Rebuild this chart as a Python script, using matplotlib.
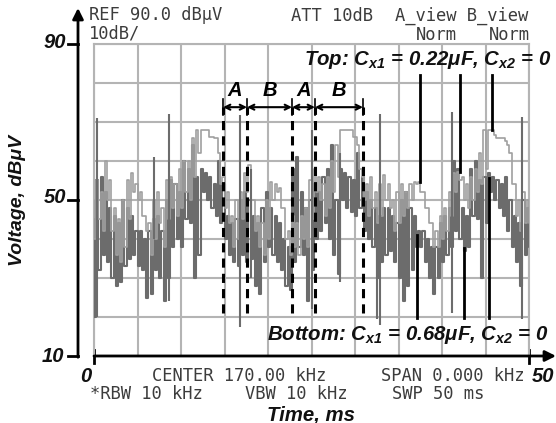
import numpy as np
import matplotlib
matplotlib.use('Agg')
import matplotlib.pyplot as plt

plt.rcParams['mathtext.fontset'] = 'custom'
plt.rcParams['mathtext.rm'] = 'Liberation Sans:bold:italic'
plt.rcParams['mathtext.it'] = 'Liberation Sans:bold:italic'
plt.rcParams['mathtext.bf'] = 'Liberation Sans:bold:italic'

# time axis, ms (0.5 ms columns)
t = np.linspace(0, 50, 101)

# top trace, Cx1 = 0.22uF (light gray): min / max per column, dBuV
top_lo = [40, 45, 42, 50, 42, 36, 34, 38, 45, 52,
          50, 46, 42, 36, 40, 44, 38, 45, 48, 46,
          48, 52, 50, 56, 62, 68, 68, 66.2, 65.8, 54,
          48, 44, 38, 40, 45, 52, 50, 42, 38, 36,
          40, 50, 52, 48, 40, 36, 38, 36, 40, 38,
          45, 52, 50, 46, 48, 52, 56, 68, 68, 68,
          66.2, 58, 50, 46, 48, 44, 46, 50, 48, 42,
          44, 46, 48, 50, 54, 52, 48, 44, 38, 38,
          40, 42, 46, 52, 55, 50, 48, 50, 52, 54,
          58, 68, 66.7, 66, 65.8, 64, 54, 46, 42, 44,
          44]
top_hi = [50, 55, 52, 60, 55, 48, 45, 50, 55, 57,
          54, 52, 46, 44, 50, 52, 48, 55, 56, 54,
          58, 60, 60, 66, 68, 68, 68, 66.2, 65.8, 62,
          56, 52, 46, 50, 52, 57, 59, 50, 46, 44,
          50, 54.7, 54, 53, 48, 42, 46, 44, 46, 48,
          55, 58, 56, 54, 56, 60, 64, 68, 68, 68,
          66.2, 64, 56, 54, 56, 52, 54, 56.4, 54, 50,
          52, 54, 52, 54, 54.7, 54.6, 52, 48, 44, 42,
          46, 48, 52, 57, 57.2, 56, 54, 56, 58, 62,
          68, 68, 68, 66, 65.8, 65, 62, 54, 50, 52,
          50]

# bottom trace, Cx1 = 0.68uF (dark gray): min / max per column, dBuV
bot_lo = [20, 32, 36, 34, 30, 28, 29, 33, 35, 36,
          33, 32, 25, 26, 32, 30, 24, 30, 38, 40,
          38, 45, 44, 30, 36, 52, 50, 48, 46, 44,
          40, 36, 34, 33, 36, 34, 35, 28, 26, 34,
          38, 36, 34, 32, 28, 27, 34, 38, 36, 24,
          32, 40, 42, 44, 40, 36, 31, 50, 48, 47,
          46, 48, 42, 40, 38, 30, 34, 36, 37, 34,
          30, 24, 28, 32, 38, 38, 34, 30, 26, 30,
          34, 36, 38, 42, 40, 37, 38, 46, 45, 30,
          44, 52, 50, 48, 46, 42, 38, 34, 28, 36,
          38]
bot_hi = [45, 55, 56, 52, 48, 46, 44, 50, 48, 46,
          42, 42, 40, 42, 45, 46, 42, 50, 55, 54,
          52, 60, 58, 64, 56, 58, 57, 56, 54, 60,
          54, 46, 44, 45, 50, 52, 50, 46, 44, 48,
          52, 48, 46, 44, 40, 38, 58, 61, 52, 48,
          50, 54, 52, 56, 58, 64, 50, 58, 57, 56,
          55, 62, 56, 52, 50, 48, 46, 48, 48, 46,
          44, 50, 52, 48, 46, 42, 42, 40, 38, 38,
          44, 46, 48, 60, 58, 48, 46, 58, 60, 55,
          56, 57, 56, 55, 54, 56, 50, 46, 44, 50,
          48]

# narrow spikes: time, low, high
spike_t = [0.3, 6.9, 8.6, 16.8, 18.0, 25.0, 28.3, 32.5, 32.9, 41.1, 49.2]
spike_lo = [20, 40, 24, 17.5, 30, 22, 29, 19.6, 18, 21, 19.6]
spike_hi = [71, 61, 72, 71.8, 58, 68, 62, 40, 72, 72.6, 71.4]

# A / B interval markers
marks_t = [14.83, 17.59, 22.76, 25.4, 30.92]
marks_lbl = ['A', 'B', 'A', 'B']

# leader lines: (time, end value)
top_lead = [(37.47, 54.6), (42.07, 57.2), (45.75, 68.0)]
bot_lead = [(37.13, 41.0), (42.53, 37.7), (45.4, 55.6)]


def zigzag(lo, hi):
    # every column drawn as a vertical stroke hi -> lo
    tt = np.repeat(t, 2) + np.tile([-0.125, 0.125], len(t))
    yy = np.column_stack([hi, lo]).ravel()
    return tt, yy


W, H = 556, 423
fig = plt.figure(figsize=(W / 100, H / 100), dpi=100)
ax = fig.add_axes([94 / W, (H - 356) / H, (529 - 94) / W, (356 - 44) / H])
ax.set_xlim(0, 50)
ax.set_ylim(10, 90)
ax.set_xticks(np.arange(0, 51, 5))
ax.set_yticks(np.arange(10, 91, 10))
ax.tick_params(length=0, labelbottom=False, labelleft=False)
ax.grid(True, color='#b4b4b4', lw=1.5)
for s in ['top', 'right', 'left']:
    ax.spines[s].set_color('#b4b4b4')
    ax.spines[s].set_linewidth(1.5)
ax.spines['bottom'].set_visible(False)

ax.plot(*zigzag(bot_lo, bot_hi), drawstyle='steps-mid', color='#6c6c6c', lw=1.5, zorder=3)
ax.plot(*zigzag(top_lo, top_hi), drawstyle='steps-mid', color='#a0a0a0', lw=1.2, zorder=3)
ax.vlines(spike_t, spike_lo, spike_hi, color='#6c6c6c', lw=1.5, zorder=3)

# dashed markers and arrows
for x in marks_t:
    ax.plot([x, x], [21, 73.8], color='k', lw=2.2, ls=(0, (3, 2)), zorder=5)
    ax.plot([x, x], [71.8, 75.8], color='k', lw=1.2, zorder=5)
for i in range(len(marks_lbl)):
    ax.annotate('', xy=(marks_t[i + 1], 73.8), xytext=(marks_t[i], 73.8),
                arrowprops=dict(arrowstyle='<->', color='k', lw=1.5,
                                shrinkA=0, shrinkB=0, mutation_scale=9), zorder=5)
    ax.text((marks_t[i] + marks_t[i + 1]) / 2, 78.2, marks_lbl[i], ha='center', va='center',
            fontsize=14.5, fontweight='bold', style='italic', family='Liberation Sans')

for x, y in top_lead:
    ax.plot([x, x], [y, 82], color='k', lw=2, zorder=5)
for x, y in bot_lead:
    ax.plot([x, x], [19.7, y], color='k', lw=2, zorder=5)

# axes with arrows
yx = (78 - 94) / 435
ax.annotate('', xy=(yx, (356 - 8) / 312), xytext=(yx, -0.004), xycoords='axes fraction',
            arrowprops=dict(arrowstyle='-|>', color='k', lw=2, mutation_scale=16,
                            shrinkA=0, shrinkB=0))
ax.annotate('', xy=((556 - 94) / 435, 0), xytext=(0, 0), xycoords='axes fraction',
            arrowprops=dict(arrowstyle='-|>', color='k', lw=2, mutation_scale=16,
                            shrinkA=0, shrinkB=0))
ytr = ax.get_yaxis_transform()
for v in [90, 50, 10]:
    ax.plot([yx - 0.022, yx], [v, v], color='k', lw=2, transform=ytr, clip_on=False)
xtr = ax.get_xaxis_transform()
for v in [0, 50]:
    ax.plot([v, v], [-0.022, 0.019], color='k', lw=2, transform=xtr, clip_on=False)


def px(x, y):
    return x / W, 1 - y / H


bi = dict(fontweight='bold', style='italic', family='Liberation Sans', color='#111111')
mono = dict(family='DejaVu Sans Mono', fontsize=12.3, color='#3c3c3c')

fig.text(*px(66, 42), '90', ha='right', va='center', fontsize=14.5, **bi)
fig.text(*px(66, 197), '50', ha='right', va='center', fontsize=14.5, **bi)
fig.text(*px(64, 356), '10', ha='right', va='center', fontsize=14.5, **bi)
fig.text(*px(86, 377), '0', ha='center', va='center', fontsize=14.5, **bi)
fig.text(*px(543, 377), '50', ha='center', va='center', fontsize=14.5, **bi)
fig.text(*px(18, 200), 'Voltage, dBμV', ha='center', va='center', rotation=90, fontsize=14, **bi)
fig.text(*px(311, 415), 'Time, ms', ha='center', va='center', fontsize=14.7, **bi)

fig.text(*px(89, 15), 'REF 90.0 dBμV', ha='left', va='center', **mono)
fig.text(*px(89, 33), '10dB/', ha='left', va='center', **mono)
fig.text(*px(291, 16), 'ATT 10dB', ha='left', va='center', **mono)
fig.text(*px(395, 16), 'A_view B_view', ha='left', va='center', **mono)
fig.text(*px(416, 35), 'Norm', ha='left', va='center', **mono)
fig.text(*px(489, 35), 'Norm', ha='left', va='center', **mono)
fig.text(*px(152, 376), 'CENTER 170.00 kHz', ha='left', va='center', **mono)
fig.text(*px(381, 376), 'SPAN 0.000 kHz', ha='left', va='center', **mono)
fig.text(*px(90, 394), '*RBW 10 kHz', ha='left', va='center', **mono)
fig.text(*px(245, 394), 'VBW 10 kHz', ha='left', va='center', **mono)
fig.text(*px(392, 394), 'SWP 50 ms', ha='left', va='center', **mono)

fig.text(*px(304, 60), r'Top: $C_{x1}$ = 0.22μF, $C_{x2}$ = 0', ha='left', va='center',
         fontsize=14.7, zorder=6, **bi)
fig.text(*px(267, 335), r'Bottom: $C_{x1}$ = 0.68μF, $C_{x2}$ = 0', ha='left', va='center',
         fontsize=14.7, zorder=6, **bi)

fig.savefig('out.png', dpi=100)
